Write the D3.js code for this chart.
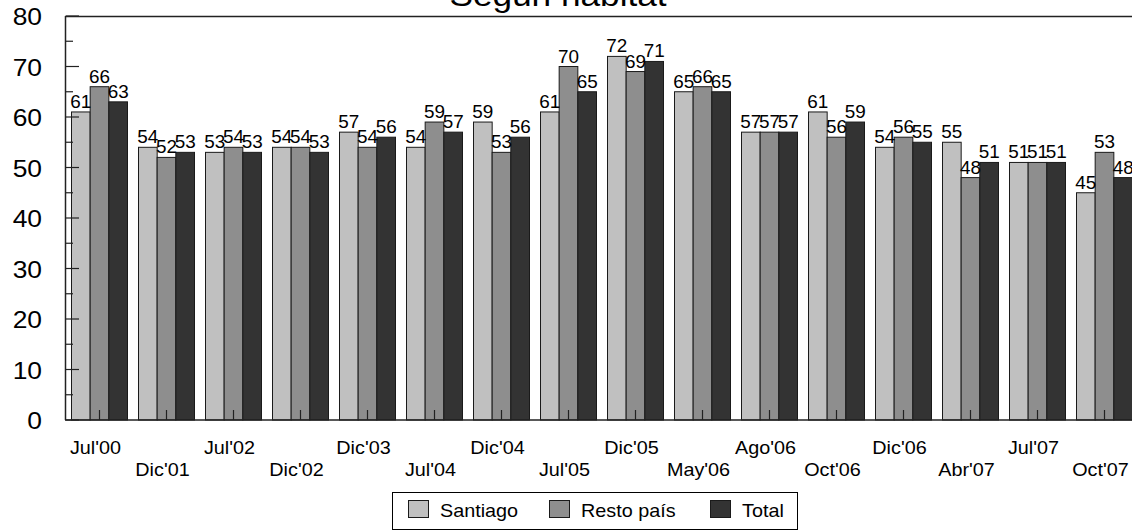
<html>
<head>
<meta charset="utf-8">
<style>
  body { margin: 0; background: #fff; }
  svg text { font-family: "Liberation Sans", Arial, sans-serif; fill: #000; }
</style>
</head>
<body>
<svg width="1132" height="531"></svg>
<script src="https://d3js.org/d3.v7.min.js"></script>
<script>

// data
var categories = ["Jul'00","Dic'01","Jul'02","Dic'02","Dic'03","Jul'04","Dic'04","Jul'05",
                  "Dic'05","May'06","Ago'06","Oct'06","Dic'06","Abr'07","Jul'07","Oct'07"];
var series = ["Santiago", "Resto país", "Total"];
var santiago  = [61, 54, 53, 54, 57, 54, 59, 61, 72, 65, 57, 61, 54, 55, 51, 45];
var restoPais = [66, 52, 54, 54, 54, 59, 53, 70, 69, 66, 57, 56, 56, 48, 51, 53];
var total     = [63, 53, 53, 53, 56, 57, 56, 65, 71, 65, 57, 59, 55, 51, 51, 48];
var yTicks = [0, 10, 20, 30, 40, 50, 60, 70, 80];
var colors = ["#c0c0c0", "#8e8e8e", "#333333"];

var values = [santiago, restoPais, total];

// note: "top" is taken by window.top, so plotTop
var svg = d3.select("svg"),
    plotLeft = 66, plotTop = 16, plotBottom = 420,
    step = 67;

var X = d3.scaleBand().domain(categories)
  .range([plotLeft, plotLeft + categories.length * step])
  .paddingInner(11 / 67).paddingOuter(5.5 / 67);
var S = d3.scaleBand().domain(series).range([0, X.bandwidth()]);
var Y = d3.scaleLinear().domain([0, 80]).range([plotBottom, plotTop]);

// stretched text, like the source picture
function stretch(sel, k) {
  sel.attr("transform", function() {
    var t = d3.select(this);
    var x = +t.attr("data-x"), y = +t.attr("data-y");
    return "translate(" + x + "," + y + ") scale(" + k + ",1)";
  });
}

// title (cut at the top)
svg.append("text")
  .attr("data-x", 558).attr("data-y", 6)
  .attr("text-anchor", "middle")
  .style("font-size", "32px")
  .text("Según hábitat")
  .call(stretch, 1.1);

// frame top line
svg.append("line")
  .attr("x1", plotLeft).attr("x2", 1132)
  .attr("y1", Y(80) + 0.5).attr("y2", Y(80) + 0.5)
  .attr("stroke", "#222").attr("stroke-width", 1.5);

// bars
var groups = svg.append("g").selectAll("g")
  .data(categories)
  .enter().append("g")
  .attr("transform", function(d) { return "translate(" + X(d) + ",0)"; });

groups.each(function(cat, i) {
  var g = d3.select(this);
  series.forEach(function(s, j) {
    var v = values[j][i];
    g.append("rect")
      .attr("x", S(s))
      .attr("y", Y(v))
      .attr("width", S.bandwidth())
      .attr("height", Y(0) - Y(v))
      .attr("fill", colors[j])
      .attr("stroke", "#1a1a1a")
      .attr("stroke-width", 1);
  });
});

// value labels
groups.each(function(cat, i) {
  var g = d3.select(this);
  series.forEach(function(s, j) {
    var v = values[j][i];
    g.append("text")
      .attr("data-x", S(s) + S.bandwidth() / 2)
      .attr("data-y", Y(v) - 4)
      .attr("text-anchor", "middle")
      .style("font-size", "18px")
      .text(v)
      .call(stretch, 1.05);
  });
});

// y axis
var yAxis = svg.append("g");
yAxis.append("line")
  .attr("x1", plotLeft - 0.5).attr("x2", plotLeft - 0.5)
  .attr("y1", Y(80)).attr("y2", Y(0))
  .attr("stroke", "#222").attr("stroke-width", 1.5);
d3.range(0, 81, 5).forEach(function(v) {
  yAxis.append("line")
    .attr("x1", plotLeft - 0.5).attr("x2", plotLeft + (v % 10 === 0 ? 13 : 7))
    .attr("y1", Y(v)).attr("y2", Y(v))
    .attr("stroke", "#222").attr("stroke-width", 1.2);
});
yAxis.selectAll("text")
  .data(yTicks)
  .enter().append("text")
  .attr("data-x", 42)
  .attr("data-y", function(d) { return Y(d) + 9; })
  .attr("text-anchor", "end")
  .style("font-size", "24px")
  .text(function(d) { return d; })
  .call(stretch, 1.1);

// x axis
var xAxis = svg.append("g");
xAxis.append("line")
  .attr("x1", plotLeft - 1).attr("x2", 1132)
  .attr("y1", Y(0)).attr("y2", Y(0))
  .attr("stroke", "#222").attr("stroke-width", 1.5);
xAxis.selectAll("line.tick")
  .data(categories)
  .enter().append("line")
  .attr("class", "tick")
  .attr("x1", function(d) { return X(d) + X.bandwidth() / 2; })
  .attr("x2", function(d) { return X(d) + X.bandwidth() / 2; })
  .attr("y1", Y(0)).attr("y2", Y(0) - 10)
  .attr("stroke", "#222").attr("stroke-width", 1.2);
xAxis.selectAll("text")
  .data(categories)
  .enter().append("text")
  .attr("data-x", function(d) { return X(d) + X.bandwidth() / 2 - 4; })
  .attr("data-y", function(d, i) { return i % 2 === 0 ? 454 : 476; })
  .attr("text-anchor", "middle")
  .style("font-size", "18px")
  .text(function(d) { return d; })
  .call(stretch, 1.1);

// legend
var legend = svg.append("g");
legend.append("rect")
  .attr("x", 392.5).attr("y", 492.5)
  .attr("width", 405).attr("height", 37)
  .attr("fill", "#fff").attr("stroke", "#000").attr("stroke-width", 1);
var legendX = [408, 549, 710];
series.forEach(function(s, j) {
  legend.append("rect")
    .attr("x", legendX[j] + 0.5).attr("y", 500.5)
    .attr("width", 20).attr("height", 17)
    .attr("fill", colors[j]).attr("stroke", "#1a1a1a");
  legend.append("text")
    .attr("data-x", legendX[j] + 32).attr("data-y", 517)
    .style("font-size", "18px")
    .text(s)
    .call(stretch, 1.1);
});

</script>
</body>
</html>
